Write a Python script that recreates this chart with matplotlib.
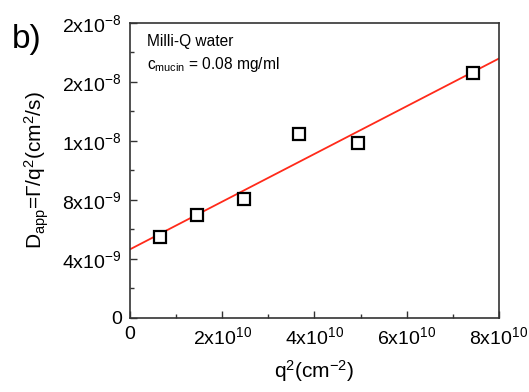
import numpy as np
import matplotlib
matplotlib.use("Agg")
import matplotlib.pyplot as plt
from matplotlib.ticker import FixedLocator, MultipleLocator

plt.rcParams.update({
    "font.family": ["Liberation Sans", "DejaVu Sans"],
    "mathtext.fontset": "custom",
    "mathtext.rm": "Liberation Sans",
    "mathtext.it": "Liberation Sans",
    "mathtext.default": "rm",
    "font.size": 11,
})

# data
q2 = [0.65e10, 1.45e10, 2.47e10, 3.67e10, 4.94e10, 7.43e10]
D_app = [5.5e-9, 6.97e-9, 8.06e-9, 12.44e-9, 11.83e-9, 16.59e-9]
fit_x = [0.0, 8e10]
fit_intercept = 4.65e-9
fit_slope = 1.616e-19

xticks = [0, 2e10, 4e10, 6e10, 8e10]
xlabels = ["0", r"2x10$^{10}$", r"4x10$^{10}$", r"6x10$^{10}$", r"8x10$^{10}$"]
yticks = [0, 4e-9, 8e-9, 1.2e-8, 1.6e-8, 2e-8]
ylabels = ["0", r"4x10$^{-9}$", r"8x10$^{-9}$", r"1x10$^{-8}$",
           r"2x10$^{-8}$", r"2x10$^{-8}$"]

fig = plt.figure(figsize=(5.29, 3.92), dpi=100)
ax = fig.add_axes([0.2457, 0.1888, 0.6976, 0.7532])

fx = np.array(fit_x)
ax.plot(fx, fit_intercept + fit_slope * fx, color="#ff2a1a", lw=1.3, zorder=2)
ax.plot(q2, D_app, ls="none", marker="s", ms=8.5, mfc="white", mec="black",
        mew=1.6, zorder=3)

ax.set_xlim(0, 8e10)
ax.set_ylim(0, 2e-8)
ax.xaxis.set_major_locator(FixedLocator(xticks))
ax.set_xticklabels(xlabels)
ax.yaxis.set_major_locator(FixedLocator(yticks))
ax.set_yticklabels(ylabels)
ax.xaxis.set_minor_locator(MultipleLocator(1e10))
ax.yaxis.set_minor_locator(MultipleLocator(2e-9))
ax.tick_params(which="both", direction="in", labelsize=14, color="#333333")
ax.tick_params(which="major", length=5, width=1, pad=6)
ax.tick_params(which="minor", length=3, width=1)
for s in ax.spines.values():
    s.set_color("#333333")
    s.set_linewidth(1.2)

ax.set_xlabel(r"q$^{2}$(cm$^{-2}$)", fontsize=15, labelpad=7)
ax.set_ylabel(r"D$_{app}$=$\Gamma$/q$^{2}$(cm$^{2}$/s)", fontsize=15, labelpad=8)

ax.text(0.045, 0.935, "Milli-Q water", transform=ax.transAxes, fontsize=11.2,
        va="center", ha="left")
ax.text(0.045, 0.86, r"c$_{mucin}$ = 0.08 mg/ml", transform=ax.transAxes,
        fontsize=11.2, va="center", ha="left")

fig.text(0.022, 0.9, "b)", fontsize=24, ha="left", va="center")

fig.savefig("out.png", dpi=100, facecolor="white")
